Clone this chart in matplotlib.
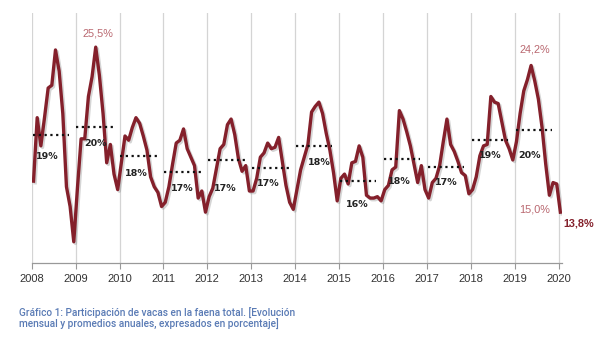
import numpy as np
import matplotlib.pyplot as plt
import matplotlib.patheffects as pe

# monthly share of cows in total slaughter (%), Jan 2008 .. Jan 2020
y2008 = [16.0, 20.5, 18.5, 20.5, 22.6, 22.8, 25.3, 23.8, 20.8, 15.6, 14.2, 11.7]
y2009 = [15.5, 19.0, 19.0, 22.0, 23.4, 25.5, 23.5, 20.8, 17.3, 18.6, 16.5, 15.4]
y2010 = [17.3, 19.2, 18.9, 19.8, 20.5, 20.1, 19.2, 18.2, 16.3, 15.6, 15.2, 14.2]
y2011 = [14.5, 15.6, 17.2, 18.7, 18.9, 19.7, 18.3, 17.7, 17.1, 14.8, 15.3, 13.8]
y2012 = [14.9, 15.5, 16.9, 18.3, 18.6, 20.0, 20.4, 19.3, 17.6, 16.7, 17.1, 15.3]
y2013 = [15.3, 16.2, 17.7, 18.0, 18.7, 18.3, 18.4, 19.1, 17.4, 15.7, 14.5, 14.0]
y2014 = [15.4, 16.8, 17.7, 18.6, 20.9, 21.3, 21.6, 20.8, 19.4, 18.2, 16.6, 14.6]
y2015 = [16.2, 16.5, 15.8, 17.3, 17.4, 18.5, 17.7, 15.0, 14.8, 14.8, 14.9, 14.6]
y2016 = [15.4, 15.7, 16.8, 17.0, 21.0, 20.4, 19.5, 18.5, 17.2, 15.9, 17.1, 15.4]
y2017 = [14.8, 15.9, 16.2, 17.1, 18.8, 20.4, 18.6, 18.1, 17.4, 16.6, 16.4, 15.1]
y2018 = [15.4, 16.3, 17.8, 18.5, 18.6, 22.0, 21.6, 21.5, 20.2, 18.9, 18.3, 17.5]
y2019 = [18.8, 20.8, 22.4, 23.2, 24.2, 23.1, 21.8, 19.8, 17.2, 15.0, 15.9, 15.8]
y2020 = [13.8]

years = list(range(2008, 2020))
avg_level = [19.3, 19.85, 17.75, 16.65, 17.5, 16.9, 18.5, 16.0, 17.6, 17.0, 18.9, 19.6]
avg_label = ["19%", "20%", "18%", "17%", "17%", "17%", "18%", "16%", "18%", "17%", "19%", "20%"]

# label placement (x offset in years, y offset in %)
lbl_dx = [0.36, 0.45, 0.38, 0.44, 0.41, 0.39, 0.54, 0.42, 0.38, 0.45, 0.45, 0.33]
lbl_dy = [1.55, 1.2, 1.18, 1.18, 2.05, 1.1, 1.18, 1.68, 1.63, 1.13, 1.11, 1.77]

monthly = (y2008 + y2009 + y2010 + y2011 + y2012 + y2013 + y2014 + y2015
           + y2016 + y2017 + y2018 + y2019 + y2020)
x = 2008 + (np.arange(len(monthly)) + 0.5) / 12

red = '#84202b'
pink = '#b9676f'

fig = plt.figure(figsize=(6.05, 3.38), dpi=100)
ax = fig.add_axes([0.0524, 0.222, 0.8766, 0.74])

ax.plot(x, monthly, color=red, lw=2.4, solid_joinstyle='round', zorder=3,
        path_effects=[pe.SimpleLineShadow(offset=(1.2, -1.2), shadow_color='#888888', alpha=0.35),
                      pe.Normal()])

for i, yr in enumerate(years):
    ax.plot([yr + 0.02, yr + 0.85], [avg_level[i], avg_level[i]], color='#111111',
            lw=1.6, linestyle=(0, (1, 1.6)), zorder=4)
    ax.text(yr + lbl_dx[i], avg_level[i] - lbl_dy[i], avg_label[i], ha='center', va='center',
            fontsize=6.8, fontweight='bold', color='#222222', zorder=5)

ax.text(2009.51, 26.5, "25,5%", ha='center', va='center', fontsize=7.8, color=pink,
        family='Liberation Sans')
ax.text(2019.46, 24.2 + 1.12, "24,2%", ha='center', va='center', fontsize=7.8, color=pink,
        family='Liberation Sans')
ax.text(2019.45, 15.0 - 1.0, "15,0%", ha='center', va='center', fontsize=7.8, color=pink,
        family='Liberation Sans')
ax.text(2020.45, 13.8 - 0.8, "13,8%", ha='center', va='center', fontsize=7.8, color=red,
        fontweight='bold', family='Liberation Sans', clip_on=False)

ax.set_xlim(2008, 2020.08)
ax.set_ylim(10.2, 27.93)
ax.set_xticks(range(2008, 2021))
ax.set_xticklabels([str(y) for y in range(2008, 2021)], fontsize=8, color='#333333',
                   family='Liberation Sans')
ax.set_yticks([])
ax.tick_params(axis='x', length=4, width=0.8, color='#999999', pad=4)
ax.grid(axis='x', color='#d4d4d4', lw=0.9)
for s in ['top', 'right', 'left']:
    ax.spines[s].set_visible(False)
ax.spines['bottom'].set_color('#999999')
ax.spines['bottom'].set_linewidth(0.9)

fig.text(0.032, 0.056, "Gráfico 1: Participación de vacas en la faena total. [Evolución\n"
         "mensual y promedios anuales, expresados en porcentaje]",
         fontsize=7.3, color='#5a7bb5', family='Roboto', fontweight='medium',
         linespacing=1.05, va='center')

plt.savefig("out.png", dpi=100)
